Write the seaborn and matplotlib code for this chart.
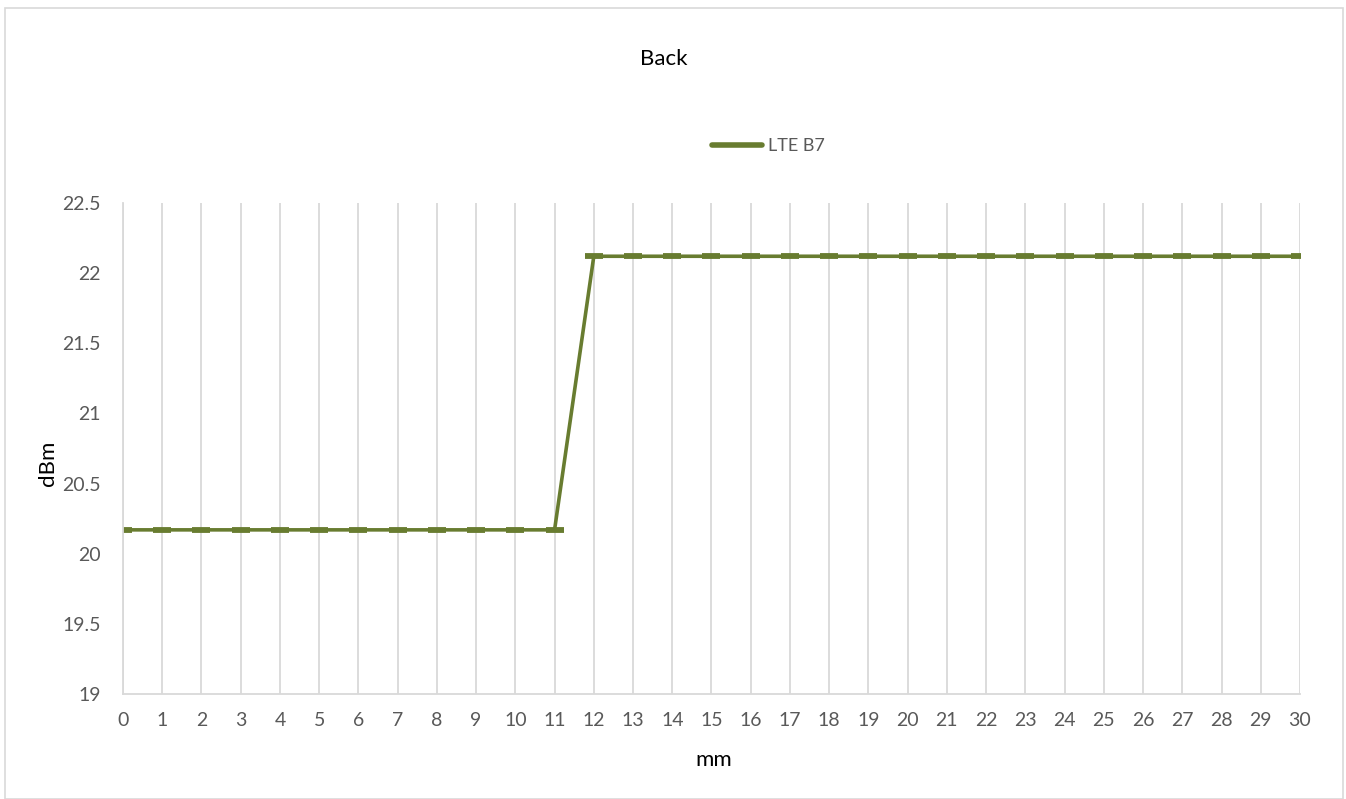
import numpy as np
import pandas as pd
import matplotlib
matplotlib.use('Agg')
import matplotlib.pyplot as plt
import seaborn as sns

# data
distance_mm = list(range(0, 31))
power_dbm = [20.17] * 12 + [22.12] * 19
series_name = 'LTE B7'

df = pd.DataFrame({'mm': distance_mm, 'dBm': power_dbm, 'band': series_name})

sns.set_style('white')
plt.rcParams['font.family'] = ['Lato', 'DejaVu Sans']
txt = '#595959'
green = '#687C30'

fig = plt.figure(figsize=(13.46, 7.99), dpi=100)
ax = fig.add_axes([0.0914, 0.1314, 0.8744, 0.6146])

sns.lineplot(data=df, x='mm', y='dBm', hue='band', palette=[green], ax=ax,
             linewidth=2.6, marker='_', markersize=13, markeredgewidth=4.2,
             markeredgecolor=green)

ax.set_xlim(0, 30)
ax.set_ylim(19, 22.5)
ax.set_xticks(distance_mm)
ax.set_xticklabels([str(v) for v in distance_mm])
yt = np.arange(19, 22.51, 0.5)
ax.set_yticks(yt)
ax.set_yticklabels([f'{v:g}' for v in yt])
ax.tick_params(axis='both', length=0, labelsize=14, colors=txt, pad=13)
ax.tick_params(axis='y', pad=16)

ax.grid(axis='x', color='#D9D9D9', linewidth=1.3)
ax.grid(axis='y', visible=False)
for s in ['top', 'right']:
    ax.spines[s].set_visible(False)
ax.spines['left'].set_color('#D9D9D9')
ax.spines['bottom'].set_color('#D9D9D9')
ax.spines['left'].set_linewidth(1.3)
ax.spines['bottom'].set_linewidth(1.3)

ax.set_xlabel('mm', fontsize=16, color='black')
ax.set_ylabel('dBm', fontsize=16, color='black')
ax.xaxis.set_label_coords(0.502, -0.115)
ax.yaxis.set_label_coords(-0.055, 0.47)

fig.text(0.493, 0.926, 'Back', ha='center', va='center', fontsize=16, color='black')

leg = ax.legend(loc='center', bbox_to_anchor=(0.548, 1.115), frameon=False,
                fontsize=13, handlelength=2.8, handletextpad=0.3)
for t in leg.get_texts():
    t.set_color(txt)
for h in leg.get_lines():
    h.set_marker('')
    h.set_linewidth(4)
    h.set_solid_capstyle('round')

# outer chart border
fig.patches.append(plt.Rectangle((0.004, 0.0), 0.994, 0.99, transform=fig.transFigure,
                                 fill=False, edgecolor='#D9D9D9', linewidth=1.2))

fig.savefig('out.png', dpi=100)
